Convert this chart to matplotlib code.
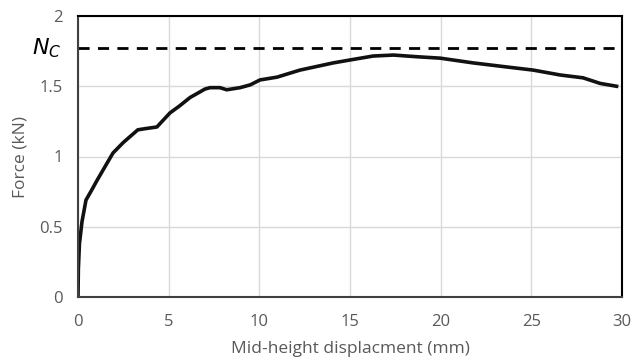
import matplotlib
matplotlib.use('Agg')
import matplotlib.pyplot as plt

# displacement (mm) and force (kN)
disp = [0, 0.02, 0.08, 0.22, 0.44, 0.75, 1.05, 1.5, 1.93, 2.5, 3.3, 3.8, 4.35, 5.07,
        5.6, 6.18, 6.73, 7.0, 7.28, 7.83, 8.2, 8.94, 9.5, 10.04, 10.98, 12.24,
        14.07, 15.0, 16.27, 17.4, 18.7, 19.97, 21.8, 23.66, 25.1, 26.6, 27.85,
        28.8, 29.7]
force = [0, 0.2, 0.38, 0.536, 0.69, 0.76, 0.83, 0.93, 1.025, 1.1, 1.19, 1.2, 1.21, 1.31,
         1.36, 1.42, 1.46, 1.48, 1.49, 1.49, 1.475, 1.49, 1.51, 1.545, 1.565, 1.615,
         1.666, 1.687, 1.715, 1.722, 1.71, 1.70, 1.666, 1.637, 1.615, 1.58, 1.56,
         1.52, 1.50]
nc = 1.772

plt.rcParams['font.family'] = ['Open Sans', 'DejaVu Sans']
grey = '#595959'

fig = plt.figure(figsize=(6.42, 3.62), dpi=100)
ax = fig.add_axes([78/642, 1 - 297/362, 544/642, 281/362])

ax.plot(disp, force, color='#111111', lw=2.6, solid_joinstyle='round')
ax.axhline(nc, color='black', lw=2, ls=(0, (4, 3)))
ax.text(-0.03, nc, '$N_C$', transform=ax.get_yaxis_transform(), ha='right',
        va='center', fontsize=16, color='black')

ax.set_xlim(0, 30)
ax.set_ylim(0, 2)
ax.set_xticks([0, 5, 10, 15, 20, 25, 30])
ax.set_yticks([0, 0.5, 1, 1.5, 2])
ax.set_yticklabels(['0', '0.5', '1', '1.5', '2'])
ax.grid(color='#d9d9d9', lw=1)
ax.set_axisbelow(True)
ax.tick_params(length=0, colors=grey, labelsize=12, pad=12)
ax.tick_params(axis='y', pad=11)
for s in ax.spines.values():
    s.set_color('black')
    s.set_linewidth(1.5)
ax.spines['bottom'].set_color('#404040')
ax.spines['left'].set_color('#404040')

ax.set_xlabel('Mid-height displacment (mm)', color=grey, fontsize=12.5, labelpad=8)
ax.set_ylabel('Force (kN)', color=grey, fontsize=12.5, labelpad=8)

fig.savefig('out.png', dpi=100)
